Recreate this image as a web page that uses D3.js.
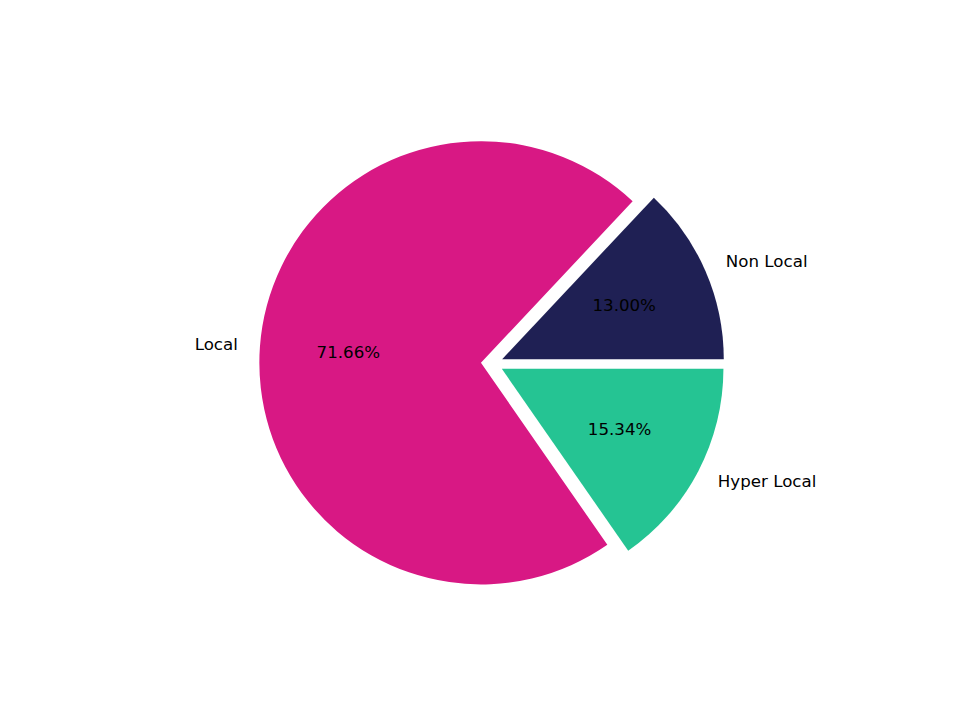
<!DOCTYPE html>
<html>
<head>
<meta charset="utf-8">
<script src="https://cdn.jsdelivr.net/npm/d3@7"></script>
<style>
  body { margin: 0; background: #fff; }
  svg text { font-family: "DejaVu Sans", sans-serif; font-size: 16.67px; fill: #000; }
</style>
</head>
<body>
<script>
const categories = ['Non Local', 'Local', 'Hyper Local'];
const shares = [13.00, 71.66, 15.34];
const colors = ['#1f2054', '#d81884', '#25c493'];
const explode = [0.05, 0.05, 0.05];

const width = 960, height = 720;

// axes box like a default figure: pie in [-1.25, 1.25] units, equal aspect
const x = d3.scaleLinear().domain([-1.25, 1.25]).range([492 - 277, 492 + 277]);
const y = d3.scaleLinear().domain([-1.25, 1.25]).range([363.6 + 277, 363.6 - 277]);
const r = x(1) - x(0);

const svg = d3.select('body')
	.append('svg')
	.attr('width', width)
	.attr('height', height);

// counterclockwise from 3 o'clock
const pie = d3.pie()
	.sort(null)
	.startAngle(Math.PI / 2)
	.endAngle(Math.PI / 2 - 2 * Math.PI);

const arcs = pie(shares);
const arc = d3.arc().innerRadius(0).outerRadius(r);

arcs.forEach(function (d, i) {
	const mid = (d.startAngle + d.endAngle) / 2;
	const dx = Math.sin(mid), dy = Math.cos(mid);
	const cx = x(explode[i] * dx), cy = y(explode[i] * dy);

	const g = svg.append('g').attr('transform', `translate(${cx},${cy})`);

	g.append('path')
		.attr('d', arc(d))
		.attr('fill', colors[i]);

	// category label
	g.append('text')
		.attr('x', x(1.1 * dx) - x(0))
		.attr('y', y(1.1 * dy) - y(0))
		.attr('dy', '0.29em')
		.attr('text-anchor', dx > 0 ? 'start' : 'end')
		.text(categories[i]);

	// percentage label
	g.append('text')
		.attr('x', x(0.6 * dx) - x(0))
		.attr('y', y(0.6 * dy) - y(0))
		.attr('dy', '0.29em')
		.attr('text-anchor', 'middle')
		.text(shares[i].toFixed(2) + '%');
});
</script>
</body>
</html>
